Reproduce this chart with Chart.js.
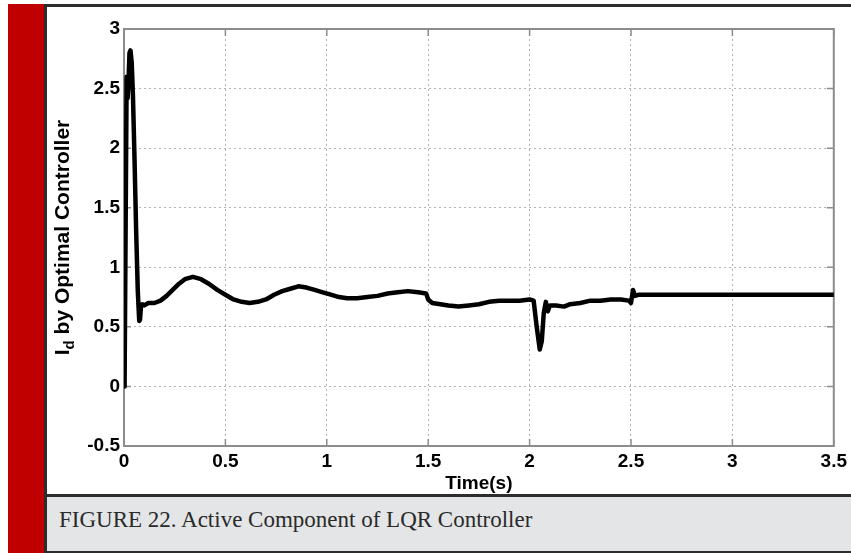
<!DOCTYPE html>
<html>
<head>
<meta charset="utf-8">
<script src="https://cdn.jsdelivr.net/npm/chart.js@4.4.1/dist/chart.umd.min.js"></script>
<style>
  body { margin: 0; background: #fff; }
  #page { position: relative; width: 851px; height: 553px; overflow: hidden; background: #fff; }
  .blk { position: absolute; }
  #caption { position: absolute; left: 59px; top: 507px; font: 23px "Liberation Serif", "Times New Roman", serif; color: #2a2a2a; white-space: nowrap; }
  canvas { position: absolute; left: 0; top: 0; }
</style>
</head>
<body>
<div id="page">
  <div class="blk" style="left:8px;top:4px;width:37px;height:549px;background:#c00000"></div>
  <div class="blk" style="left:44px;top:4px;width:807px;height:3px;background:#2d2d2d"></div>
  <div class="blk" style="left:44px;top:4px;width:3px;height:549px;background:#2d2d2d"></div>
  <div class="blk" style="left:47px;top:494px;width:804px;height:3px;background:#2d2d2d"></div>
  <div class="blk" style="left:47px;top:497px;width:804px;height:54px;background:#e4e5e7"></div>
  <div class="blk" style="left:47px;top:551px;width:804px;height:2px;background:#2d2d2d"></div>
  <div id="caption">FIGURE 22. Active Component of LQR Controller</div>
  <canvas id="myChart" width="851" height="553"></canvas>
</div>
<script>
// time axis (s) and I_d
let timeS = [0, 0.003, 0.013, 0.018, 0.022, 0.027, 0.032, 0.038, 0.044, 0.052, 0.06, 0.068, 0.075, 0.079, 0.084, 0.09,
  0.1, 0.12, 0.15, 0.18, 0.21, 0.24, 0.27, 0.3, 0.34, 0.38, 0.42, 0.46, 0.5, 0.54, 0.58, 0.62, 0.66, 0.7, 0.74, 0.78,
  0.82, 0.86, 0.9, 0.94, 0.98, 1.02, 1.06, 1.1, 1.15, 1.2, 1.25, 1.3, 1.35, 1.4, 1.45, 1.49, 1.5, 1.52, 1.56, 1.6,
  1.65, 1.7, 1.75, 1.8, 1.85, 1.9, 1.95, 2.0, 2.02, 2.035, 2.05, 2.06, 2.07, 2.08, 2.09, 2.1, 2.13, 2.17, 2.2, 2.25,
  2.3, 2.35, 2.4, 2.45, 2.49, 2.5, 2.51, 2.52, 2.54, 2.6, 2.7, 2.8, 2.9, 3.0, 3.1, 3.2, 3.3, 3.4, 3.5];
let idValues = [0, 0.05, 2.6, 2.42, 2.55, 2.8, 2.82, 2.72, 2.45, 1.9, 1.3, 0.8, 0.55, 0.56, 0.68, 0.69,
  0.68, 0.7, 0.7, 0.72, 0.76, 0.81, 0.86, 0.9, 0.92, 0.9, 0.86, 0.81, 0.77, 0.73, 0.71, 0.7, 0.71, 0.73, 0.77, 0.8,
  0.82, 0.84, 0.83, 0.81, 0.79, 0.77, 0.75, 0.74, 0.74, 0.75, 0.76, 0.78, 0.79, 0.8, 0.79, 0.78, 0.73, 0.7, 0.69, 0.68,
  0.67, 0.68, 0.69, 0.71, 0.72, 0.72, 0.72, 0.73, 0.72, 0.5, 0.31, 0.38, 0.62, 0.71, 0.63, 0.68, 0.68, 0.67, 0.69, 0.7,
  0.72, 0.72, 0.73, 0.73, 0.72, 0.7, 0.81, 0.76, 0.77, 0.77, 0.77, 0.77, 0.77, 0.77, 0.77, 0.77, 0.77, 0.77, 0.77];
let xTicks = [0, 0.5, 1, 1.5, 2, 2.5, 3, 3.5];
let yTicks = [-0.5, 0, 0.5, 1, 1.5, 2, 2.5, 3];

let points = [];
timeS.forEach(function (t, i) {
  points.push({x: t, y: idValues[i]});
});

let tickFont = {family: '"Liberation Sans", Arial, sans-serif', size: 19, weight: 'bold'};

// gray box with inward tick marks, like the matlab axes
let frame = {
  id: 'frame',
  beforeDatasetsDraw(chart) {
    let ctx = chart.ctx;
    let a = chart.chartArea;
    let sx = chart.scales.x, sy = chart.scales.y;
    ctx.save();
    ctx.strokeStyle = '#8c8c8c';
    ctx.lineWidth = 2;
    ctx.strokeRect(a.left, a.top, a.right - a.left, a.bottom - a.top);
    ctx.lineWidth = 1.5;
    ctx.beginPath();
    xTicks.forEach(function (v) {
      let px = sx.getPixelForValue(v);
      ctx.moveTo(px, a.bottom); ctx.lineTo(px, a.bottom - 7);
      ctx.moveTo(px, a.top); ctx.lineTo(px, a.top + 7);
    });
    yTicks.forEach(function (v) {
      let py = sy.getPixelForValue(v);
      ctx.moveTo(a.left, py); ctx.lineTo(a.left + 7, py);
      ctx.moveTo(a.right, py); ctx.lineTo(a.right - 7, py);
    });
    ctx.stroke();
    ctx.restore();
  }
};

// y title with a subscript d
let yTitle = {
  id: 'yTitle',
  afterDraw(chart) {
    let ctx = chart.ctx;
    let a = chart.chartArea;
    let big = 'bold 21px "Liberation Sans", Arial, sans-serif';
    let small = 'bold 15px "Liberation Sans", Arial, sans-serif';
    let rest = ' by Optimal Controller';
    ctx.save();
    ctx.font = big;
    let w1 = ctx.measureText('I').width;
    let w3 = ctx.measureText(rest).width;
    ctx.font = small;
    let w2 = ctx.measureText('d').width;
    let x = -(w1 + w2 + w3) / 2;
    ctx.translate(69, (a.top + a.bottom) / 2);
    ctx.rotate(-Math.PI / 2);
    ctx.fillStyle = '#000';
    ctx.textBaseline = 'alphabetic';
    ctx.font = big; ctx.fillText('I', x, 0); x += w1;
    ctx.font = small; ctx.fillText('d', x, 5); x += w2;
    ctx.font = big; ctx.fillText(rest, x, 0);
    ctx.restore();
  }
};

let ctx = document.getElementById('myChart').getContext('2d');
let myChart = new Chart(ctx, {
  type: 'line',
  data: {
    datasets: [{
      label: 'Id',
      data: points,
      borderColor: '#000',
      borderWidth: 4.5,
      borderJoinStyle: 'round',
      borderCapStyle: 'round',
      pointRadius: 0,
      tension: 0,
      fill: false
    }]
  },
  options: {
    responsive: false,
    animation: false,
    layout: {padding: {left: 0, top: 29, right: 14, bottom: 57}},
    plugins: {legend: {display: false}, tooltip: {enabled: false}},
    scales: {
      x: {
        type: 'linear',
        min: 0, max: 3.5,
        afterBuildTicks: function (scale) { scale.ticks = xTicks.map(v => ({value: v})); },
        afterFit: function (scale) { scale.height = 50; },
        ticks: {color: '#000', font: tickFont, padding: 4, maxRotation: 0, autoSkip: false,
          callback: function (v) { return String(v); }},
        grid: {color: '#b3b3b3', lineWidth: 1, drawTicks: false},
        border: {display: false, dash: [2, 3]},
        title: {display: true, text: 'Time(s)', color: '#000', font: tickFont, padding: {top: 0, bottom: 1}}
      },
      y: {
        min: -0.5, max: 3,
        afterBuildTicks: function (scale) { scale.ticks = yTicks.map(v => ({value: v})); },
        afterFit: function (scale) { scale.width = 124; },
        ticks: {color: '#000', font: tickFont, padding: 4, autoSkip: false,
          callback: function (v) { return String(v); }},
        grid: {color: '#b3b3b3', lineWidth: 1, drawTicks: false},
        border: {display: false, dash: [2, 3]}
      }
    }
  },
  plugins: [frame, yTitle]
});
</script>
</body>
</html>
